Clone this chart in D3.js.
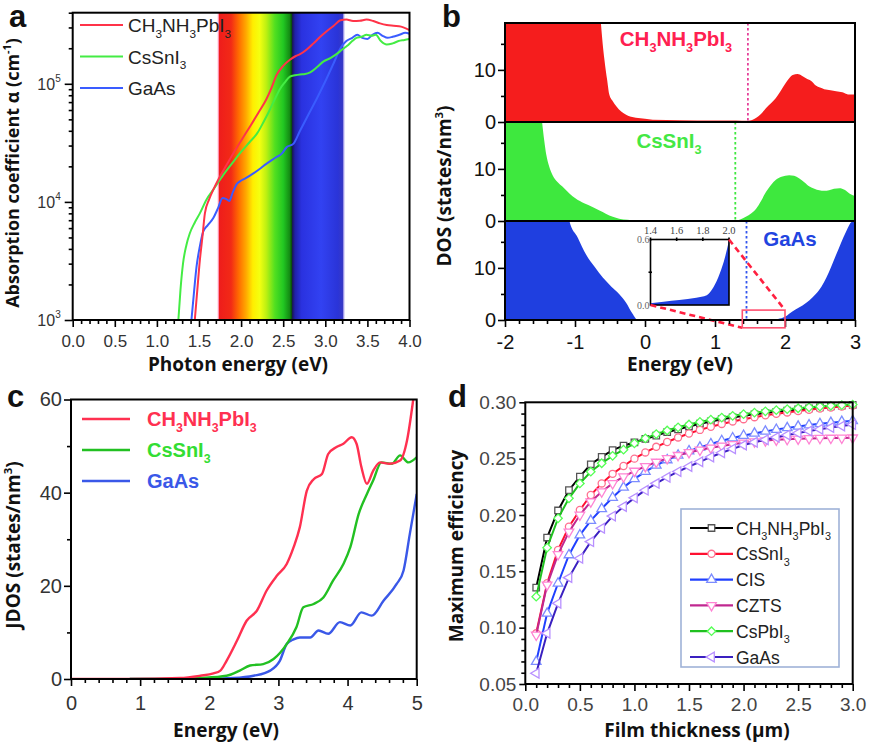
<!DOCTYPE html>
<html><head><meta charset="utf-8">
<script src="https://cdn.jsdelivr.net/npm/d3@7"></script>
<style>body{margin:0;background:#fff}</style>
</head><body>
<svg id="c" width="872" height="748"></svg>
<script>
// ---------------- DATA ----------------
// Panel a: absorption coefficient (cm^-1) vs photon energy (eV)
const aMapiE = [1.45,1.48,1.51,1.54,1.57,1.62,1.67,1.73,1.8,1.91,2.0,2.11,2.2,2.3,2.36,2.42,2.5,2.58,2.65,2.7,2.78,2.86,2.94,3.02,3.1,3.18,3.25,3.33,3.41,3.49,3.57,3.65,3.73,3.81,3.9,4.0];
const aMapiA = [1000,1800,3200,5000,8000,10500,12700,15500,19000,26000,33000,44000,56000,74000,92000,118000,142000,160000,172000,178000,195000,220000,250000,280000,310000,345000,350000,340000,342000,350000,340000,325000,315000,310000,305000,285000];
const aCsSnE = [1.255,1.28,1.31,1.35,1.39,1.45,1.51,1.59,1.67,1.79,1.9,1.99,2.1,2.19,2.27,2.34,2.4,2.46,2.52,2.58,2.64,2.7,2.76,2.82,2.9,2.98,3.06,3.14,3.2,3.26,3.32,3.37,3.43,3.49,3.55,3.6,3.66,3.73,3.8,3.87,3.94,4.0];
const aCsSnA = [1000,1800,3000,4300,5400,6700,8000,10500,12700,17000,21500,26000,32000,38000,48000,60000,74000,90000,103000,115000,118000,120000,121000,125000,138000,155000,165000,180000,195000,210000,230000,245000,250000,260000,255000,260000,230000,215000,220000,230000,235000,240000];
const aGaAsE = [1.41,1.44,1.47,1.51,1.55,1.6,1.67,1.73,1.78,1.82,1.86,1.9,1.95,1.99,2.05,2.15,2.22,2.3,2.36,2.42,2.48,2.54,2.62,2.7,2.8,2.9,3.0,3.1,3.18,3.25,3.32,3.38,3.44,3.5,3.56,3.62,3.68,3.74,3.8,3.88,3.95,4.0];
const aGaAsA = [1000,1700,2800,4200,5600,6300,7300,9000,10800,10600,10200,12000,14200,15000,15800,17500,19000,21000,22500,24000,25500,29000,31000,40000,55000,75000,105000,150000,200000,230000,245000,260000,245000,240000,260000,270000,255000,245000,250000,260000,270000,265000];
const aXTicks = [0,0.5,1,1.5,2,2.5,3,3.5,4];
const aYTicks = [1e3,1e4,1e5];

// Panel b: DOS (states/nm^3) vs energy (eV)
const bMapiE = [-2,-0.66,-0.63,-0.58,-0.54,-0.51,-0.46,-0.41,-0.34,-0.27,-0.2,-0.13,0,0.11,0.5,1.0,1.3,1.47,1.53,1.59,1.66,1.73,1.8,1.87,1.94,2.01,2.06,2.11,2.18,2.24,2.3,2.37,2.44,2.5,2.56,2.65,2.73,2.82,2.9,3.0];
const bMapiV = [25,25,19,12,8,5.3,4.0,3.0,2.0,1.4,1.0,0.8,0.6,0.45,0.35,0.3,0.3,0.25,0.4,0.8,1.6,2.7,3.6,4.6,6.0,7.5,8.4,9.0,9.2,8.9,8.4,7.9,7.0,6.6,6.3,6.1,5.9,5.7,5.3,5.3];
const bCsSnE = [-2,-1.51,-1.47,-1.44,-1.41,-1.37,-1.32,-1.25,-1.18,-1.08,-0.99,-0.87,-0.75,-0.65,-0.56,-0.46,-0.37,-0.25,-0.13,0,0.5,1.0,1.29,1.36,1.44,1.52,1.59,1.66,1.73,1.8,1.87,1.95,2.06,2.13,2.2,2.28,2.35,2.42,2.49,2.56,2.63,2.7,2.78,2.85,2.92,3.0];
const bCsSnV = [25,25,19,15.5,12.7,10.5,8.8,7.5,6.6,5.3,4.3,3.4,2.7,2.0,1.4,0.8,0.45,0.25,0.1,0.05,0.05,0.05,0.1,0.3,0.8,1.5,2.4,3.9,5.6,6.9,7.9,8.5,8.8,8.7,8.2,7.4,6.6,6.2,5.9,5.8,5.9,6.2,6.3,6.0,5.3,4.8];
const bGaAsE = [-2,-1.1,-1.08,-0.96,-0.84,-0.72,-0.6,-0.48,-0.37,-0.27,-0.18,-0.1,0,0.5,1.0,1.4,1.6,1.8,1.9,2.0,2.06,2.15,2.25,2.35,2.44,2.52,2.59,2.66,2.73,2.8,2.87,2.93,2.98,3.0];
const bGaAsV = [25,25,19,15.8,12.5,10.2,8.1,6.4,5.0,3.3,1.25,0,0,0,0,0.01,0.05,0.11,0.2,0.6,1.2,2.0,2.8,3.8,5.0,6.4,8.1,10.2,12.5,14.8,16.9,18.5,19.5,25];
const bGapE = [1.47,1.29,1.45];          // dotted band-edge markers
const insetE = [1.4,1.5,1.62,1.75,1.83,1.88,1.93,1.97,2.0];
const insetV = [0.015,0.03,0.045,0.067,0.09,0.16,0.29,0.44,0.59];
const insetXTicks = [1.4,1.6,1.8,2.0];
const insetYTicks = [0.0,0.6];
const bZoomBox = {e0:1.39, e1:2.0, v0:-1.5, v1:1.9};
const bXTicks = [-2,-1,0,1,2,3];
const bYTicks = [0,10];

// Panel c: JDOS vs energy
const cMapiE = [0,0.85,1.58,1.87,2.06,2.16,2.25,2.4,2.54,2.69,2.83,2.98,3.12,3.22,3.31,3.41,3.51,3.63,3.72,3.84,3.94,4.06,4.13,4.2,4.28,4.37,4.47,4.61,4.76,4.86,4.95];
const cMapiV = [0,0,0.2,0.7,1.2,1.8,3.9,8.2,12.5,14.7,19,22.2,24.7,28.3,32.6,40.4,42.9,44,48.3,49.8,50.5,51.9,50.5,45.5,41.9,44.7,46.5,46.2,46.9,51.2,60];
const cCsSnE = [0.85,1.5,1.87,2.25,2.44,2.59,2.78,2.93,3.12,3.26,3.36,3.51,3.65,3.79,3.94,4.04,4.16,4.28,4.37,4.49,4.64,4.76,4.88,5.0];
const cCsSnV = [0,0,0.2,0.7,1.8,2.9,3.2,4.3,7.5,11.1,15.4,16.1,17.5,21.1,24.7,28.3,35.4,39.7,42.6,46.5,46.2,48,46.5,47.6];
const cGaAsE = [0.85,2.0,2.35,2.64,2.88,3.02,3.12,3.22,3.31,3.46,3.58,3.72,3.89,4.04,4.2,4.35,4.52,4.71,4.81,4.9,5.0];
const cGaAsV = [0,0.05,0.2,0.7,1.8,3.9,7.5,8.5,8.9,8.9,10.4,9.7,12.2,11.5,14.3,13.6,16.8,20.4,23.3,31.1,39.7];
const cXTicks = [0,1,2,3,4,5];
const cYTicks = [0,20,40,60];

// Panel d: maximum efficiency vs film thickness (um)
const dThick = [0.1,0.2,0.3,0.4,0.5,0.6,0.7,0.8,0.9,1.0,1.1,1.2,1.3,1.4,1.5,1.6,1.7,1.8,1.9,2.0,2.1,2.2,2.3,2.4,2.5,2.6,2.7,2.8,2.9,3.0];
const dMapi  = [.1355,.180,.204,.222,.234,.245,.2515,.2575,.2615,.2645,.2675,.2705,.2735,.276,.2785,.281,.283,.285,.2865,.288,.2893,.2905,.2916,.2927,.2937,.2946,.2955,.2963,.2971,.2978];
const dCsSn  = [.095,.1394,.169,.1896,.2044,.2177,.228,.2365,.2435,.25,.2555,.2605,.2648,.2688,.2723,.2755,.2783,.2808,.283,.285,.2868,.2884,.2898,.291,.2922,.2933,.2944,.2954,.2963,.2972];
const dCIS   = [.0698,.1127,.1394,.1645,.1822,.195,.2055,.2155,.2245,.232,.2385,.244,.2488,.253,.2568,.26,.263,.2658,.2683,.2705,.2724,.2742,.2758,.2773,.2786,.2798,.2809,.2819,.2828,.2836];
const dCZTS  = [.0935,.138,.165,.185,.200,.2118,.2207,.228,.234,.239,.2432,.247,.2502,.253,.2555,.2577,.2596,.2613,.2627,.264,.2651,.266,.2667,.2672,.2676,.2679,.2681,.2683,.2684,.2685];
const dCsPb  = [.1275,.171,.197,.2148,.228,.2384,.2459,.2525,.258,.2636,.268,.2718,.275,.2778,.2803,.2826,.2846,.2864,.288,.2895,.2908,.292,.293,.2939,.2947,.2955,.2962,.2969,.2975,.298];
const dGaAs  = [.0595,.095,.1216,.1444,.1616,.1763,.1882,.199,.2075,.2152,.222,.228,.2335,.2385,.243,.2472,.2515,.2552,.2587,.262,.2645,.2668,.269,.271,.2728,.2745,.2761,.2776,.279,.2803];
const dNames = ["CH3NH3PbI3","CsSnI3","CIS","CZTS","CsPbI3","GaAs"];
const dXTicks = [0,0.5,1,1.5,2,2.5,3];
const dYTicks = [0.05,0.10,0.15,0.20,0.25,0.30];

// ---------------- DRAWING ----------------
const svg = d3.select("#c");
const FONT = "'Liberation Sans', Arial, sans-serif";
const TITLE = "'Open Sans', 'Liberation Sans', sans-serif";
const zip = (xs, ys) => xs.map((x,i)=>({x, y: ys[i]}));

function formula(t, str, fs){
  const parts = str.match(/[A-Za-z]+|\d+/g);
  let sub = false;
  parts.forEach(p=>{
    if(/\d/.test(p)){ t.append("tspan").attr("font-size",fs*0.62).attr("dy",fs*0.3).text(p); sub = true; }
    else { const s = t.append("tspan").text(p); if(sub){ s.attr("dy",-fs*0.3); sub=false; } }
  });
}
function styleAxis(g, fs, col){
  g.select(".domain").remove();
  g.selectAll(".tick line").attr("stroke","#000").attr("stroke-width",1.6);
  g.selectAll(".tick text").attr("font-family",FONT).attr("font-size",fs).attr("fill",col||"#333");
}
function frame(x0,y0,x1,y1,w){
  svg.append("rect").attr("x",x0).attr("y",y0).attr("width",x1-x0).attr("height",y1-y0)
    .attr("fill","none").attr("stroke","#000").attr("stroke-width",w||2);
}
function clip(id,x0,y0,x1,y1){
  svg.append("clipPath").attr("id",id).append("rect").attr("x",x0).attr("y",y0).attr("width",x1-x0).attr("height",y1-y0);
  return "url(#"+id+")";
}
function title(x,y,txt,fs,rot){
  const t = svg.append("text").attr("font-family",TITLE).attr("font-weight",700).attr("font-size",fs)
    .attr("text-anchor","middle").attr("fill","#111")
    .attr("transform",`translate(${x},${y})`+(rot?" rotate(-90)":""));
  return t.text(txt);
}
function supTitle(x,y,pre,sup,post,fs){
  const t = svg.append("text").attr("font-family",TITLE).attr("font-weight",700).attr("font-size",fs)
    .attr("text-anchor","middle").attr("fill","#111").attr("transform",`translate(${x},${y}) rotate(-90)`);
  t.append("tspan").text(pre);
  t.append("tspan").attr("font-size",fs*0.6).attr("dy",-fs*0.42).text(sup);
  t.append("tspan").attr("dy",fs*0.42).text(post);
}
function letter(x,y,l){
  svg.append("text").attr("x",x).attr("y",y).attr("font-family",FONT).attr("font-weight",700)
    .attr("font-size",31).attr("fill","#111").text(l);
}
const plain = d => String(d);

// ===== Panel a =====
{
  const L=72.7,R=409.5,T=12.7,B=320;
  const x = d3.scaleLinear().domain([0,4]).range([L,R]);
  const y = d3.scaleLog().domain([1e3,4e5]).range([B,T]);
  const cp = clip("ca",L,T,R,B);
  // spectrum band
  const bandStops = [[1.73,"#ee1c1c"],[1.88,"#f22a16"],[1.97,"#ff6a00"],[2.06,"#ffaa00"],[2.14,"#ffee00"],[2.22,"#f4ff10"],[2.3,"#bcf012"],[2.4,"#52e020"],[2.5,"#22c822"],[2.575,"#148c14"],[2.605,"#0a400a"],[2.607,"#181850"],[2.64,"#2020a8"],[2.72,"#2a32e0"],[2.95,"#3242f2"],[3.15,"#2a34d8"],[3.22,"#3a3ac0"]];
  const e0=1.73,e1=3.22;
  const grad = svg.append("defs").append("linearGradient").attr("id","band").attr("gradientUnits","userSpaceOnUse")
    .attr("x1",x(e0)).attr("x2",x(e1)).attr("y1",0).attr("y2",0);
  bandStops.forEach(s=>grad.append("stop").attr("offset",(s[0]-e0)/(e1-e0)).attr("stop-color",s[1]));
  svg.append("rect").attr("x",x(e0)).attr("y",T).attr("width",x(e1)-x(e0)).attr("height",B-T).attr("fill","url(#band)");
  svg.append("line").attr("x1",x(e0)).attr("x2",x(e0)).attr("y1",T).attr("y2",B).attr("stroke","#ff90b0").attr("stroke-width",1.2);
  svg.append("line").attr("x1",x(e1)).attr("x2",x(e1)).attr("y1",T).attr("y2",B).attr("stroke","#b0a8f0").attr("stroke-width",1.2);

  const line = d3.line().x(d=>x(d.x)).y(d=>y(d.y)).curve(d3.curveMonotoneX);
  const series = [[aGaAsE,aGaAsA,"#3a5cff"],[aCsSnE,aCsSnA,"#44ec44"],[aMapiE,aMapiA,"#ff3348"]];
  series.forEach(s=>svg.append("path").attr("d",line(zip(s[0],s[1]))).attr("fill","none")
    .attr("stroke",s[2]).attr("stroke-width",2).attr("clip-path",cp));

  // axes
  const minorX = d3.range(0,40.5,1).map(v=>v/10).filter(v=>Math.abs(v*2-Math.round(v*2))>1e-6);
  svg.append("g").attr("transform",`translate(0,${B})`).call(d3.axisBottom(x).tickValues(minorX).tickSize(4).tickFormat("")).call(g=>styleAxis(g,17));
  svg.append("g").attr("transform",`translate(0,${B})`).call(d3.axisBottom(x).tickValues(aXTicks).tickSize(7).tickPadding(8).tickFormat(d3.format(".1f"))).call(g=>styleAxis(g,17));
  const minorY = [];
  [1e3,1e4,1e5].forEach(dec=>{for(let k=2;k<=9;k++){ if(dec*k<=4e5) minorY.push(dec*k);} });
  svg.append("g").attr("transform",`translate(${L},0)`).call(d3.axisLeft(y).tickValues(minorY).tickSize(4).tickFormat("")).call(g=>styleAxis(g,17));
  svg.append("g").attr("transform",`translate(${L},0)`).call(d3.axisLeft(y).tickValues(aYTicks).tickSize(8).tickFormat("")).call(g=>styleAxis(g,17));
  aYTicks.forEach(v=>{
    const t = svg.append("text").attr("x",L-12).attr("y",y(v)+6).attr("text-anchor","end")
      .attr("font-family",FONT).attr("font-size",16).attr("fill","#333");
    t.append("tspan").text("10");
    t.append("tspan").attr("font-size",10).attr("dy",-8).text(Math.round(Math.log10(v)));
  });
  frame(L,T,R,B);
  // legend
  const leg = [["CH3NH3PbI3","#ff3348"],["CsSnI3","#44ec44"],["GaAs","#3a5cff"]];
  leg.forEach((d,i)=>{
    const yy = 25 + i*31.5;
    svg.append("line").attr("x1",80).attr("x2",123).attr("y1",yy).attr("y2",yy).attr("stroke",d[1]).attr("stroke-width",2.2);
    const t = svg.append("text").attr("x",128).attr("y",yy+7).attr("font-family",FONT).attr("font-size",19).attr("fill","#222");
    formula(t,d[0],19);
  });
  supTitle(19,173,"Absorption coefficient α (cm","-1",")",18);
  title(238,371,"Photon energy (eV)",19);
  letter(9,27,"a");
}

// ===== Panel b =====
{
  const L=505,R=855,T=23,B=320;
  const x = d3.scaleLinear().domain([-2,3]).range([L,R]);
  const h = (B-T)/3;
  const panels = [[bMapiE,bMapiV,"#f51d1d"],[bCsSnE,bCsSnV,"#3ee83e"],[bGaAsE,bGaAsV,"#1f3fe0"]];
  const dotCols = ["#e6409a","#3ee83e","#3355ee"];
  const ys = [];
  panels.forEach((p,i)=>{
    const y0 = T + i*h, y1 = y0 + h;
    const y = d3.scaleLinear().domain([0,19]).range([y1,y0]);
    ys.push(y);
    const cp = clip("cb"+i,L,y0,R,y1);
    const area = d3.area().x(d=>x(d.x)).y0(y(0)).y1(d=>y(d.y)).curve(d3.curveMonotoneX);
    svg.append("path").attr("d",area(zip(p[0],p[1]))).attr("fill",p[2]).attr("clip-path",cp);
    svg.append("line").attr("x1",x(bGapE[i])).attr("x2",x(bGapE[i])).attr("y1",y0).attr("y2",y1)
      .attr("stroke",dotCols[i]).attr("stroke-width",1.8).attr("stroke-dasharray","2.5,2.5");
    svg.append("g").attr("transform",`translate(${L},0)`).call(d3.axisLeft(y).tickValues([5,15]).tickSize(4).tickFormat("")).call(g=>styleAxis(g,20));
    svg.append("g").attr("transform",`translate(${L},0)`).call(d3.axisLeft(y).tickValues(bYTicks).tickSize(7).tickPadding(2).tickFormat(plain)).call(g=>styleAxis(g,20,"#111"));
    if(i>0) svg.append("line").attr("x1",L).attr("x2",R).attr("y1",y0).attr("y2",y0).attr("stroke","#000").attr("stroke-width",2);
  });
  const yb = ys[2];
  // inset
  const IL=650.5, IR=729, IT=239.5, IB=305;
  const ix = d3.scaleLinear().domain([1.4,2.0]).range([IL,IR]);
  const iy = d3.scaleLinear().domain([0,0.6]).range([IB,IT]);
  svg.append("rect").attr("x",IL).attr("y",IT).attr("width",IR-IL).attr("height",IB-IT).attr("fill","#fff");
  const ia = d3.area().x(d=>ix(d.x)).y0(iy(0)).y1(d=>iy(d.y)).curve(d3.curveMonotoneX);
  svg.append("path").attr("d",ia(zip(insetE,insetV))).attr("fill","#1f3fe0");
  frame(IL,IT,IR,IB,1.6);
  insetXTicks.forEach(v=>{
    svg.append("text").attr("x",ix(v)).attr("y",IT-6).attr("text-anchor","middle").attr("font-family","'Liberation Serif',serif")
      .attr("font-size",10.5).attr("fill","#444").text(v.toFixed(1));
    svg.append("line").attr("x1",ix(v)).attr("x2",ix(v)).attr("y1",IT-2).attr("y2",IT+1.5).attr("stroke","#000").attr("stroke-width",1.6);
  });
  insetYTicks.forEach(v=>{
    svg.append("text").attr("x",IL-1).attr("y",iy(v)+3.5).attr("text-anchor","end").attr("font-family","'Liberation Serif',serif")
      .attr("font-size",10).attr("fill","#666").text(v.toFixed(1));
  });
  svg.append("line").attr("x1",IL-2).attr("x2",IL+1.5).attr("y1",iy(0.3)).attr("y2",iy(0.3)).attr("stroke","#000").attr("stroke-width",1.6);
  // zoom box and connectors
  const zb = bZoomBox;
  svg.append("line").attr("x1",IR).attr("y1",IT).attr("x2",x(zb.e1)).attr("y2",yb(zb.v1))
    .attr("stroke","#ff2040").attr("stroke-width",2.6).attr("stroke-dasharray","6,4");
  svg.append("line").attr("x1",IL).attr("y1",IB).attr("x2",x(zb.e0)).attr("y2",yb(zb.v0))
    .attr("stroke","#ff2040").attr("stroke-width",2.6).attr("stroke-dasharray","6,4");
  // axes x
  const minorX = d3.range(-20,30.5,2).map(v=>v/10).filter(v=>Math.abs(v-Math.round(v))>1e-6);
  svg.append("g").attr("transform",`translate(0,${B})`).call(d3.axisBottom(x).tickValues(minorX).tickSize(4).tickFormat("")).call(g=>styleAxis(g,20));
  svg.append("g").attr("transform",`translate(0,${B})`).call(d3.axisBottom(x).tickValues(bXTicks).tickSize(7).tickPadding(8).tickFormat(plain)).call(g=>styleAxis(g,20,"#111"));
  frame(L,T,R,B);
  svg.append("rect").attr("x",x(zb.e0)).attr("y",yb(zb.v1)).attr("width",x(zb.e1)-x(zb.e0)).attr("height",yb(zb.v0)-yb(zb.v1))
    .attr("fill","none").attr("stroke","#ff5070").attr("stroke-width",1.6);
  // labels
  const lab = [["CH3NH3PbI3","#ff2050",676,46],["CsSnI3","#44e844",669,148],["GaAs","#2244e0",790,246]];
  lab.forEach(d=>{
    const t = svg.append("text").attr("x",d[2]).attr("y",d[3]).attr("text-anchor","middle").attr("font-family",FONT)
      .attr("font-weight",700).attr("font-size",20.5).attr("fill",d[1]);
    formula(t,d[0],20.5);
  });
  supTitle(451,186,"DOS (states/nm","3",")",19);
  title(680,371,"Energy (eV)",19);
  letter(442,27,"b");
}

// ===== Panel c =====
{
  const L=71,R=416.7,T=399.5,B=679;
  const x = d3.scaleLinear().domain([0,5]).range([L,R]);
  const y = d3.scaleLinear().domain([0,60]).range([B,T]);
  const cp = clip("cc",L,T,R,B);
  const line = d3.line().x(d=>x(d.x)).y(d=>y(d.y)).curve(d3.curveMonotoneX);
  const series = [[cGaAsE,cGaAsV,"#3a58e8"],[cCsSnE,cCsSnV,"#22c022"],[cMapiE,cMapiV,"#ff3050"]];
  series.forEach(s=>svg.append("path").attr("d",line(zip(s[0],s[1]))).attr("fill","none")
    .attr("stroke",s[2]).attr("stroke-width",2.4).attr("clip-path",cp));
  const minorX = d3.range(0,50.5,2).map(v=>v/10).filter(v=>Math.abs(v-Math.round(v))>1e-6);
  svg.append("g").attr("transform",`translate(0,${B})`).call(d3.axisBottom(x).tickValues(minorX).tickSize(4).tickFormat("")).call(g=>styleAxis(g,20));
  svg.append("g").attr("transform",`translate(0,${B})`).call(d3.axisBottom(x).tickValues(cXTicks).tickSize(7).tickPadding(10).tickFormat(plain)).call(g=>styleAxis(g,20));
  svg.append("g").attr("transform",`translate(${L},0)`).call(d3.axisLeft(y).tickValues([10,30,50]).tickSize(4).tickFormat("")).call(g=>styleAxis(g,20));
  svg.append("g").attr("transform",`translate(${L},0)`).call(d3.axisLeft(y).tickValues(cYTicks).tickSize(7).tickPadding(2).tickFormat(plain)).call(g=>styleAxis(g,20));
  frame(L,T,R,B);
  const leg = [["CH3NH3PbI3","#ff3050"],["CsSnI3","#22c022"],["GaAs","#3a58e8"]];
  leg.forEach((d,i)=>{
    const yy = 419 + i*31;
    svg.append("line").attr("x1",82).attr("x2",130).attr("y1",yy).attr("y2",yy).attr("stroke",d[1]).attr("stroke-width",2.4);
    const t = svg.append("text").attr("x",147).attr("y",yy+7).attr("font-family",FONT).attr("font-weight",700)
      .attr("font-size",20).attr("fill",d[1]==="#22c022"?"#33dd33":d[1]);
    formula(t,d[0],20);
  });
  supTitle(20,545,"JDOS (states/nm","3",")",19);
  title(226,737,"Energy (eV)",19);
  letter(7,407,"c");
}

// ===== Panel d =====
{
  const L=525.3,R=852.7,T=402.3,B=684;
  const x = d3.scaleLinear().domain([0,3]).range([L,R]);
  const y = d3.scaleLinear().domain([0.05,0.30]).range([B,T]);
  const cp = clip("cd",L-6,T-6,R+6,B);
  const styles = [
    {c:"#000000", m:"#555555", s:d3.symbolSquare, size:42, rot:0},
    {c:"#ff1030", m:"#ff7090", s:d3.symbolCircle, size:40, rot:0},
    {c:"#2040ff", m:"#7c8cff", s:d3.symbolTriangle, size:40, rot:0},
    {c:"#c02890", m:"#ff84d4", s:d3.symbolTriangle, size:40, rot:180},
    {c:"#20c020", m:"#55ff55", s:d3.symbolSquare, size:36, rot:45},
    {c:"#3a20c0", m:"#b890ff", s:d3.symbolTriangle, size:40, rot:-90}
  ];
  const vals = [dMapi,dCsSn,dCIS,dCZTS,dCsPb,dGaAs];
  const line = d3.line().x(d=>x(d.x)).y(d=>y(d.y));
  const g = svg.append("g").attr("clip-path",cp);
  vals.forEach((v,i)=>{
    const st = styles[i];
    const pts = zip(dThick,v);
    g.append("path").attr("d",line(pts)).attr("fill","none").attr("stroke",st.c).attr("stroke-width",2);
    g.selectAll(null).data(pts).enter().append("path")
      .attr("d",d3.symbol().type(st.s).size(st.size))
      .attr("transform",d=>`translate(${x(d.x)},${y(d.y)}) rotate(${st.rot})`)
      .attr("fill","#fff").attr("stroke",st.m).attr("stroke-width",1.3);
  });
  const minorX = d3.range(0,30.5,1).map(v=>v/10).filter(v=>Math.abs(v*2-Math.round(v*2))>1e-6);
  svg.append("g").attr("transform",`translate(0,${B})`).call(d3.axisBottom(x).tickValues(minorX).tickSize(4).tickFormat("")).call(g=>styleAxis(g,19));
  svg.append("g").attr("transform",`translate(0,${B})`).call(d3.axisBottom(x).tickValues(dXTicks).tickSize(7).tickPadding(7).tickFormat(d3.format(".1f"))).call(g=>styleAxis(g,19,"#444"));
  const minorY = d3.range(5,30.5,1).map(v=>v/100).filter(v=>Math.abs(v*20-Math.round(v*20))>1e-6);
  svg.append("g").attr("transform",`translate(${L},0)`).call(d3.axisLeft(y).tickValues(minorY).tickSize(4).tickFormat("")).call(g=>styleAxis(g,19));
  svg.append("g").attr("transform",`translate(${L},0)`).call(d3.axisLeft(y).tickValues(dYTicks).tickSize(6).tickPadding(3).tickFormat(d3.format(".2f"))).call(g=>styleAxis(g,19,"#444"));
  frame(L,T,R,B);
  // legend
  svg.append("rect").attr("x",681).attr("y",509).attr("width",158).attr("height",158).attr("fill","#fff")
    .attr("stroke","#9fb2d8").attr("stroke-width",1.6);
  dNames.forEach((n,i)=>{
    const st = styles[i], yy = 528 + i*25.8;
    svg.append("line").attr("x1",690).attr("x2",733).attr("y1",yy).attr("y2",yy).attr("stroke",st.c).attr("stroke-width",2.2);
    svg.append("path").attr("d",d3.symbol().type(st.s).size(st.size)).attr("transform",`translate(711.5,${yy}) rotate(${st.rot})`)
      .attr("fill","#fff").attr("stroke",st.m).attr("stroke-width",1.3);
    const t = svg.append("text").attr("x",736).attr("y",yy+6.5).attr("font-family",FONT).attr("font-size",17.5).attr("fill","#222");
    formula(t,n,17.5);
  });
  title(463,546,"Maximum efficiency",19,true);
  title(697,737,"Film thickness (μm)",19);
  letter(448,407,"d");
}
</script>
</body></html>
